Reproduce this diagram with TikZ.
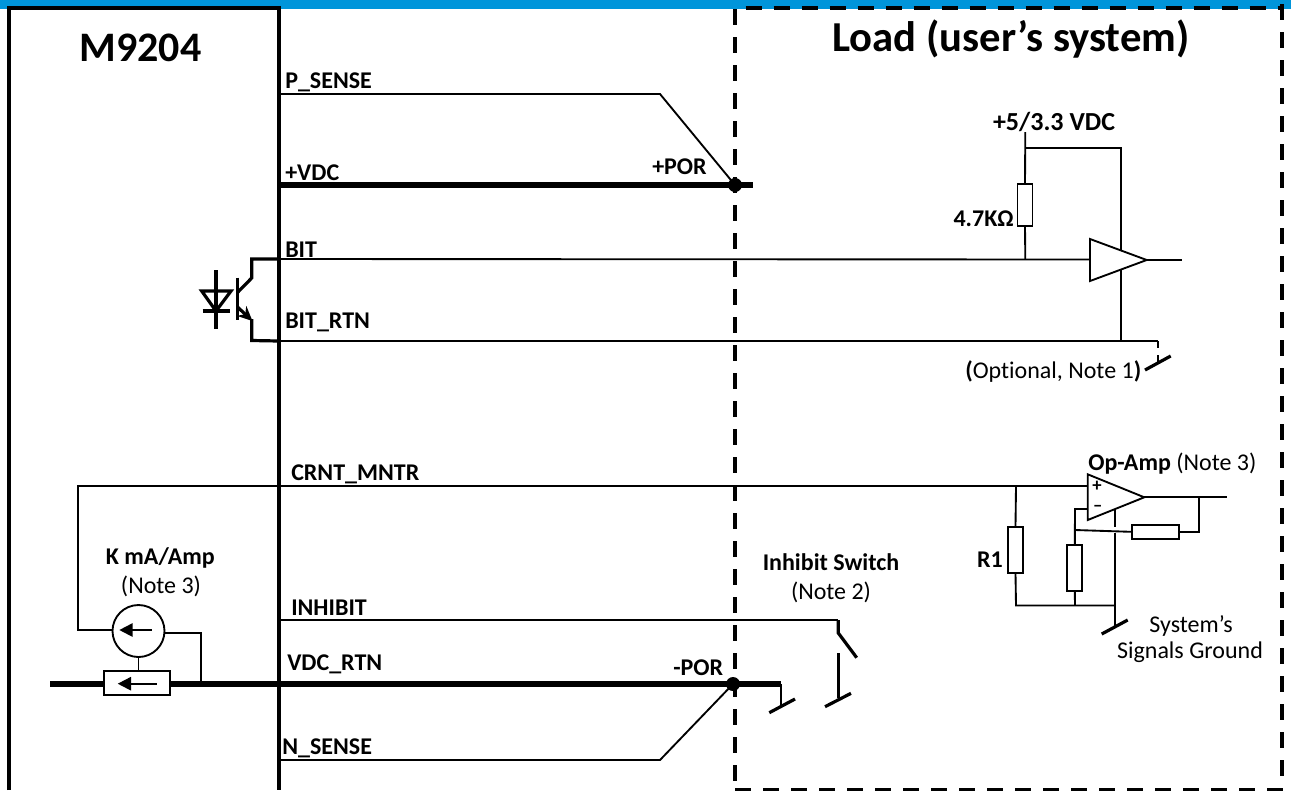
\documentclass[tikz,border=0pt]{standalone}
\usepackage{fontspec}
\setmainfont[Ligatures=NoCommon]{Carlito}
\usetikzlibrary{arrows.meta}
\definecolor{bandblue}{RGB}{0,149,218}
\tikzset{
  wire/.style={line width=1.4pt,line join=miter},
  bus/.style={line width=4.5pt},
  med/.style={line width=2.4pt},
  frame/.style={line width=3pt},
  borderdash/.style={line width=3pt,dash pattern=on 12pt off 9pt},
  res/.style={draw,fill=white,line width=1.4pt,inner sep=0pt,minimum width=11.25pt,minimum height=33pt},
  lab/.style={font=\fontsize{18}{21}\selectfont\bfseries,inner sep=0pt,anchor=west,yshift=-1pt},
  note/.style={font=\fontsize{18}{21}\selectfont,inner sep=0pt,yshift=-1.2pt},
  noteb/.style={font=\fontsize{18}{21}\selectfont\bfseries,inner sep=0pt,yshift=-1pt},
  big/.style={font=\fontsize{32}{38}\selectfont\bfseries,inner sep=0pt},
  dot/.style={circle,fill=black,inner sep=0pt,minimum size=10.5pt},
  arrowin/.style={line width=1.4pt,-{Triangle[length=10pt,width=10pt]}},
  amp/.style={draw,fill=white,line width=1.4pt,line join=miter},
}
\begin{document}
\begin{tikzpicture}[x=.75pt,y=-.75pt]
\useasboundingbox (0,0) rectangle (1291,790);
\fill[bandblue] (0,0) rectangle (1291,9);
% M9204 box
\coordinate (mtl) at (9,8); \coordinate (mtr) at (279,8);
\coordinate (mbl) at (9,790); \coordinate (mbr) at (279,790);
\draw[frame] (mbl) -- (mtl) -- (mtr) -- (mbr);
% load box
\draw[borderdash] (735,9) -- (735,781);
\draw[borderdash] (745.7,8) -- (1282,8);
\draw[borderdash] (1282,4) -- (1282,776);
\draw[borderdash] (735,790) -- (1283,790);
% titles
\node[big,font=\fontsize{31.5}{36}\selectfont\bfseries] (tm) at (140.5,48) {M9204};
\node[big] (tl) at (1011,39) {Load (user’s system)};
% dots
\node[dot] (por1) at (735,185) {};
\node[dot] (por2) at (733,684) {};
% P_SENSE / +VDC
\coordinate (ps0) at (279,94); \coordinate (ps1) at (660,94);
\draw[wire] (ps0) -- (ps1) -- (por1.center);
\coordinate (v0) at (279,184.5); \coordinate (v1) at (753,184.5);
\draw[bus] (v0) -- (v1);
% BIT, BIT_RTN and optocoupler
\coordinate (bit0) at (279,259); \coordinate (bitc) at (251.7,259);
\coordinate (bitp) at (1025.3,259); \coordinate (ampin) at (1090,259.5);
\coordinate (rtn0) at (279,341); \coordinate (rtnc) at (251.7,340.5);
\coordinate (gnd1) at (1158,341);
\coordinate (bitjn) at (1121,341);
\draw[wire] (bit0) -- (ampin);
\draw[wire] (rtn0) -- (gnd1);
\draw[med,line join=miter] (bit0) -- (bitc) -- (251.7,278) -- (237.5,292.5);
\draw[med] (237.5,277.5) -- (237.5,319.5);
\draw[med,-{Stealth[length=11pt,width=10pt]}] (237.5,307) -- (252.5,321);
\draw[med,line join=miter] (251.7,319) -- (rtnc) -- (rtn0);
% diode
\draw[med] (216,270) -- (216,329);
\draw[med,line join=miter] (201.7,291) -- (231,291) -- (216,311) -- cycle;
\draw[med] (202.7,311) -- (230,311);
% pull-up
\coordinate (pu0) at (1025.3,132); \coordinate (pu1) at (1025.3,148); \coordinate (pu2) at (1121,148);
\node[res,minimum height=31.5pt] (r47) at (1025,205) {};
\draw[wire] (pu0) -- (r47.north);
\draw[wire] (r47.south) -- (bitp);
\draw[wire] (pu1) -- (pu2) -- (bitjn);
\draw[amp] (1090,239) -- (1090,281) -- (1146.7,260) -- cycle;
\coordinate (ampout) at (1146.7,260); \coordinate (ampend) at (1181.7,260);
\draw[wire] (ampout) -- (ampend);
% optional ground
\coordinate (g1a) at (1158,348); \coordinate (g1b) at (1158,355); \coordinate (g1c) at (1158,363);
\draw[wire] (gnd1) -- (g1a); \draw[wire] (g1b) -- (g1c);
\draw[med] (1145,370) -- (1170.7,356);
% CRNT_MNTR
\coordinate (cm0) at (78,486.3); \coordinate (cm1) at (1087.7,486.3);
\node[circle,draw,line width=1.4pt,inner sep=0pt,minimum size=39pt] (src) at (138.5,631) {};
\coordinate (cs0) at (78,630);
\draw[wire] (cm1) -- (cm0) -- (cs0) -- (src.west |- cs0);
\draw[arrowin] (151.7,630) -- (119.3,630);
% shunt
\coordinate (b0) at (50,684); \coordinate (b1) at (781,684);
\draw[bus] (b0) -- (b1);
\node[draw,fill=white,line width=1.4pt,inner sep=0pt,minimum width=49.5pt,minimum height=18pt] (sh) at (137,683) {};
\draw[arrowin] (156.7,683.7) -- (117.7,683.7);
\draw[wire] (src.south) -- (src.south |- sh.north);
\coordinate (sr0) at (201,632.7); \coordinate (sr1) at (201,682);
\draw[wire] (src.east |- sr0) -- (sr0) -- (sr1);
% -POR / N_SENSE
\coordinate (ns0) at (279,760); \coordinate (ns1) at (660,760);
\draw[wire] (ns0) -- (ns1) -- (por2.center);
% VDC_RTN ground
\coordinate (g2a) at (781,684); \coordinate (g2b) at (781,705);
\draw[wire] (g2a) -- (g2b);
\draw[med] (769.3,712.7) -- (795,699);
% inhibit
\coordinate (in0) at (279,620); \coordinate (in1) at (838.3,620);
\draw[wire] (in0) -- (in1);
\draw[med,line join=miter] (in1) -- (838.3,633) -- (856.7,657.7);
\draw[med] (838.5,653) -- (838.5,698);
\draw[med] (825,706.7) -- (851,693.3);
% op-amp circuit
\coordinate (r1t) at (1016,486.3); \coordinate (r1b) at (1016,605.5);
\coordinate (gj) at (1115,605.5); \coordinate (gnd3) at (1115,627);
\node[res,minimum height=34.5pt] (r1) at (1015.5,549.7) {};
\draw[wire] (r1t) -- (r1.north);
\draw[wire] (r1.south) -- (r1b) -- (gj);
\coordinate (fb0) at (1087.7,509); \coordinate (fb1) at (1075,509);
\coordinate (fb2) at (1075,530); \coordinate (fb3) at (1075,605.5);
\node[res,minimum height=34.5pt] (r2) at (1074.8,568) {};
\draw[wire] (fb0) -- (fb1) -- (r2.north);
\draw[wire] (r2.south) -- (fb3);
\node[draw,fill=white,line width=1.4pt,inner sep=0pt,minimum width=35.25pt,minimum height=10.5pt] (r3) at (1155.2,531.8) {};
\draw[wire] (fb2) -- (r3.west);
\coordinate (oa) at (1144.3,497.3); \coordinate (oe) at (1226.7,497.3); \coordinate (oj) at (1199.3,497.3);
\draw[wire] (r3.east) -- (oj |- r3.east) -- (oj);
\draw[wire] (1115,509) -- (1115,527);
\draw[wire] (1115,533) -- (gnd3);
\draw[med] (1101.7,634) -- (1127.7,620);
\draw[amp] (1087.7,474.3) -- (1087.7,520) -- (oa) -- cycle;
\draw[wire] (oa) -- (oe);
\node[font=\fontsize{14}{14}\selectfont\bfseries,inner sep=0pt] (plus) at (1097,486.5) {+};
\node[font=\fontsize{14}{14}\selectfont\bfseries,inner sep=0pt] (minus) at (1097.7,508.5) {–};
% labels
\node[lab] (l1) at (285,81) {P\_SENSE};
\node[lab] (l2) at (285,171) {+VDC};
\node[lab] (l3) at (285,248) {BIT};
\node[lab] (l4) at (285,321) {BIT\_RTN};
\node[lab] (l5) at (291,473) {CRNT\_MNTR};
\node[lab] (l6) at (291,606) {INHIBIT};
\node[lab] (l7) at (287,663) {VDC\_RTN};
\node[lab] (l8) at (282,747) {N\_SENSE};
\node[lab] (l9) at (652,165) {+POR};
\node[lab] (l10) at (673,666) {-POR};
\node[noteb,font=\fontsize{19.5}{22}\selectfont\bfseries] (l11) at (1054,121) {+5/3.3 VDC};
\node[noteb,anchor=east] (l12) at (1014,217) {4.7KΩ};
\node[note,anchor=west] (l13) at (965,370) {\textbf{(}Optional, Note 1\textbf{)}};
\node[note,anchor=west] (l14) at (1088,462) {\textbf{Op-Amp} (Note 3)};
\node[noteb] (l15) at (990,558) {R1};
\node[note] (l16) at (1191,624) {System’s};
\node[note] (l17) at (1190,651) {Signals Ground};
\node[noteb] (l18) at (831,561) {Inhibit Switch};
\node[note] (l19) at (831,591) {(Note 2)};
\node[noteb] (l20) at (160.3,556.5) {K mA/Amp};
\node[note] (l21) at (161,585) {(Note 3)};
\end{tikzpicture}
\end{document}
